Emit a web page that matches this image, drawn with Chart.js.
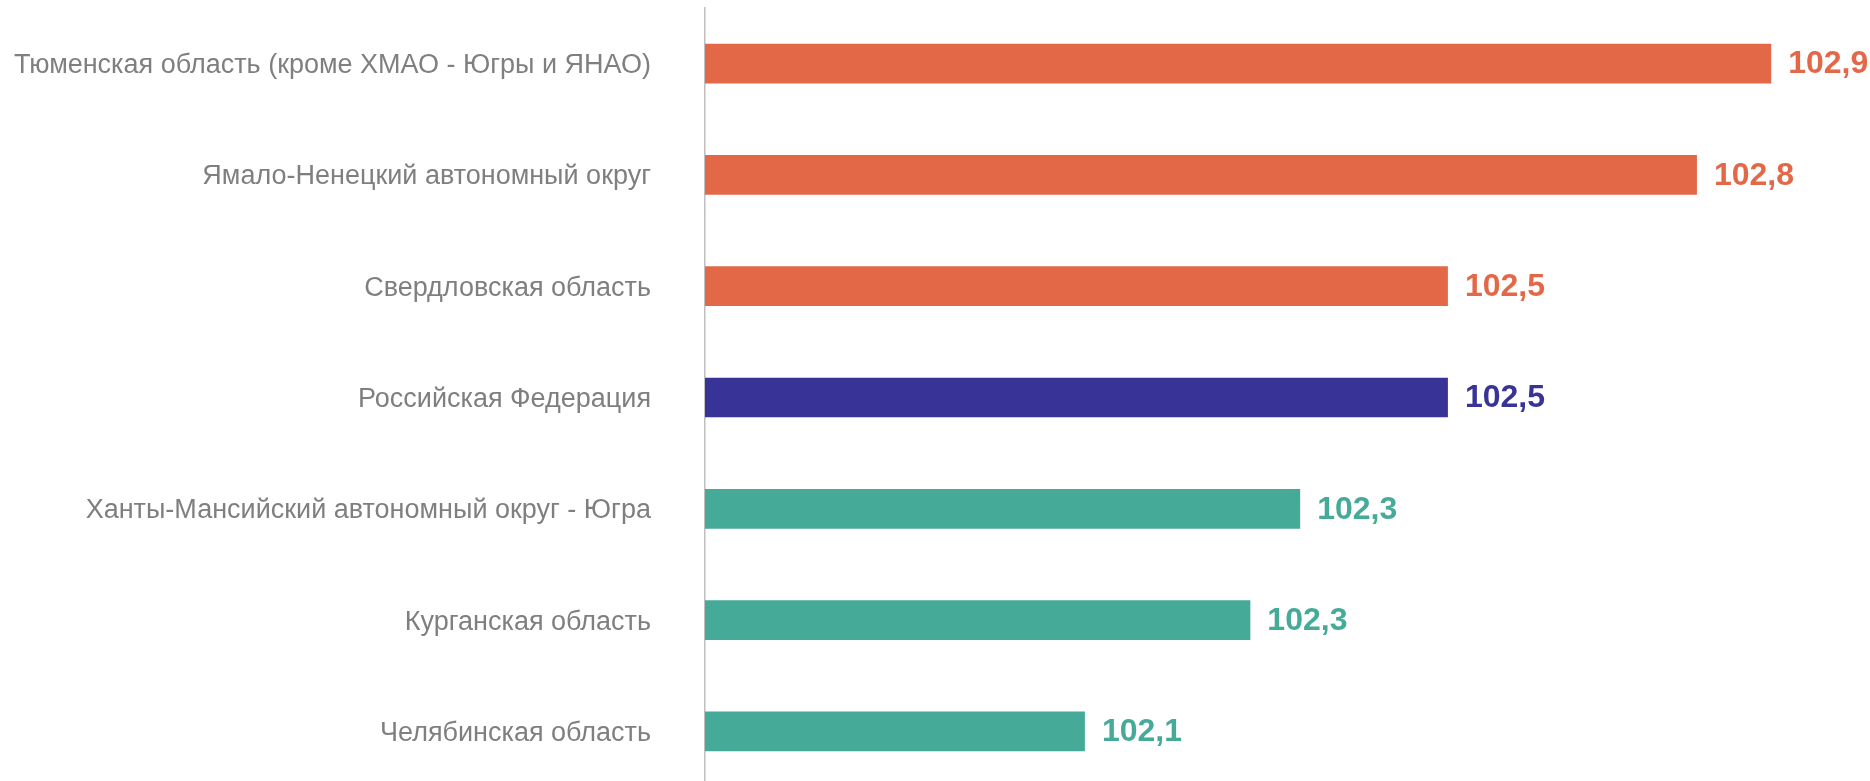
<!DOCTYPE html>
<html>
<head>
<meta charset="utf-8">
<script src="https://cdn.jsdelivr.net/npm/chart.js@4/dist/chart.umd.min.js"></script>
<style>
    html, body { margin: 0; padding: 0; background: #fff; overflow: hidden; }
    #wrap { width: 1870px; height: 787px; position: relative; }
</style>
</head>
<body>
<div id="wrap"><canvas id="myChart"></canvas></div>
<script>
const regions = [
    "Тюменская область (кроме ХМАО - Югры и ЯНАО)",
    "Ямало-Ненецкий автономный округ",
    "Свердловская область",
    "Российская Федерация",
    "Ханты-Мансийский автономный округ - Югра",
    "Курганская область",
    "Челябинская область"
];
const indexValues = [102.883, 102.795, 102.50, 102.50, 102.325, 102.266, 102.07];

const orange = "#e36848";
const navy = "#373397";
const teal = "#46aa98";
const barColors = [orange, orange, orange, navy, teal, teal, teal];

// value labels to the right of each bar, same colour as the bar
const valueLabels = {
    id: "valueLabels",
    afterDatasetsDraw(chart) {
        const ctx = chart.ctx;
        const meta = chart.getDatasetMeta(0);
        ctx.save();
        ctx.font = "bold 32px 'Liberation Sans', Arial, sans-serif";
        ctx.textAlign = "left";
        ctx.textBaseline = "middle";
        meta.data.forEach((bar, i) => {
            ctx.fillStyle = barColors[i];
            const txt = indexValues[i].toFixed(1).replace(".", ",");
            ctx.fillText(txt, bar.x + 17, bar.y + 1);
        });
        ctx.restore();
    }
};

Chart.defaults.font.family = "'Liberation Sans', Arial, sans-serif";

new Chart("myChart", {
    type: "bar",
    data: {
        labels: regions,
        datasets: [{
            data: indexValues,
            backgroundColor: barColors,
            barPercentage: 0.357,
            categoryPercentage: 1.0
        }]
    },
    options: {
        indexAxis: "y",
        responsive: true,
        maintainAspectRatio: false,
        animation: false,
        layout: { padding: { top: 8, right: 0, bottom: 0, left: 0 } },
        plugins: {
            legend: { display: false },
            tooltip: { enabled: false }
        },
        scales: {
            x: {
                display: false,
                min: 101.62,
                max: 103.0
            },
            y: {
                grid: { display: false, drawTicks: false },
                border: { display: true, color: "#bfbfbf", width: 1.5 },
                ticks: {
                    color: "#7f7f7f",
                    font: { size: 27 },
                    padding: 54,
                    labelOffset: 2
                },
                afterFit(scale) {
                    scale.width = 705; // left edge of the plot
                    // tick padding should only push labels sideways
                    scale.paddingTop = 0;
                    scale.paddingBottom = 0;
                }
            }
        }
    },
    plugins: [valueLabels]
});
</script>
</body>
</html>
